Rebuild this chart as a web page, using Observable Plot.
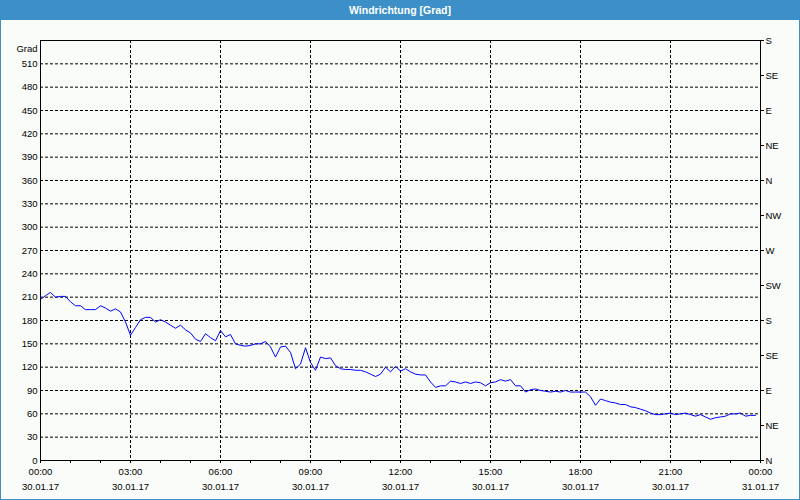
<!DOCTYPE html>
<html>
<head>
<meta charset="utf-8">
<script src="https://cdn.jsdelivr.net/npm/d3@7"></script>
<script src="https://cdn.jsdelivr.net/npm/@observablehq/plot@0.6"></script>
<style>
  html, body { margin: 0; padding: 0; background: #ffffff; }
  #win { position: relative; width: 800px; height: 500px; background: #f9fcf9; overflow: hidden;
         font-family: "Liberation Sans", Arial, sans-serif; }
  #title { position: absolute; left: 0; top: 0; width: 800px; height: 20px; background: #3c8fc7;
           color: #ffffff; font-size: 10.5px; font-weight: bold; text-align: center; line-height: 20px; }
  #chart { position: absolute; left: 0; top: 20px; }
  #border { position: absolute; left: 0; top: 0; width: 800px; height: 500px; box-sizing: border-box;
            border: 1px solid #3c8fc7; border-top: none; pointer-events: none; }
</style>
</head>
<body>
<div id="win">
  <div id="title">Windrichtung [Grad]</div>
  <div id="chart"></div>
  <div id="border"></div>
</div>
<script>
// ---- data ----
const titleText = "Windrichtung [Grad]";
const yAxisLabel = "Grad";
const startTime = "2017-01-30T00:00:00Z";
const endTime = "2017-01-31T00:00:00Z";
const stepMinutes = 10;
// wind direction in degrees, one reading every 10 minutes
const directionValues = [
  207,212,216,210,211,211,204,199,199,194,
  194,194,199,196,192,195,191,178,161,171,
  181,184,184,178,181,178,174,170,174,168,
  164,156,153,163,158,154,167,159,162,150,
  148,147,148,150,150,153,146,133,146,147,
  139,118,124,145,126,116,133,131,132,122,
  118,117,117,116,116,114,111,108,111,120,
  114,121,115,118,114,111,110,110,101,94,
  96,96,102,101,99,101,99,101,100,96,
  100,101,104,102,104,96,96,88,91,92,
  90,89,88,89,88,90,88,88,88,88,
  82,71,79,77,75,74,72,72,69,68,
  66,64,61,59,59,60,61,59,60,61,
  59,57,59,56,53,55,56,57,60,60,
  61,57,58,58
];
const yTicks = [0,30,60,90,120,150,180,210,240,270,300,330,360,390,420,450,480,510];
const yGridTicks = [30,60,90,120,150,180,210,240,270,300,330,360,390,420,450,480,510];
const compassTicks = [0,45,90,135,180,225,270,315,360,405,450,495,540];
const compassLabels = ["N","NE","E","SE","S","SW","W","NW","N","NE","E","SE","S"];
const majorTickTimes = ["2017-01-30T00:00:00Z","2017-01-30T03:00:00Z","2017-01-30T06:00:00Z",
  "2017-01-30T09:00:00Z","2017-01-30T12:00:00Z","2017-01-30T15:00:00Z","2017-01-30T18:00:00Z",
  "2017-01-30T21:00:00Z","2017-01-31T00:00:00Z"];
const gridTickTimes = majorTickTimes.slice(1, -1);

// ---- build ----
const t0 = new Date(startTime);
const data = directionValues.map((v, i) => ({ t: new Date(t0.getTime() + i * stepMinutes * 60000), v }));
const majorTicks = majorTickTimes.map(s => new Date(s));
const gridTicks = gridTickTimes.map(s => new Date(s));
const minorTicks = d3.utcHour.range(t0, d3.utcHour.offset(new Date(endTime), 1));
const fmtTime = d3.utcFormat("%H:%M");
const fmtDate = d3.utcFormat("%d.%m.%y");
document.getElementById("title").textContent = titleText;

const gridStyle = { stroke: "#000", strokeOpacity: 1, strokeWidth: 1, strokeDasharray: "3,2" };

const chart = Plot.plot({
  width: 800,
  height: 480,
  marginLeft: 40,
  marginRight: 40,
  marginTop: 20,
  marginBottom: 40,
  style: { background: "transparent", fontFamily: "'Liberation Sans', Arial, sans-serif", fontSize: "9.5px", color: "#000" },
  x: { type: "utc", domain: [t0, new Date(endTime)] },
  y: { domain: [0, 540] },
  marks: [
    Plot.gridY(yGridTicks, gridStyle),
    Plot.gridX(gridTicks, gridStyle),
    Plot.line(data, { x: "t", y: "v", stroke: "#0000ff", strokeWidth: 1 }),
    Plot.frame({ stroke: "#000" }),
    Plot.axisY({ ticks: yTicks, tickSize: 0, tickPadding: 3, label: null }),
    Plot.axisY({ anchor: "right", ticks: compassTicks, tickFormat: d => compassLabels[compassTicks.indexOf(d)],
                 tickSize: 3, tickPadding: 2, label: null }),
    Plot.axisX({ ticks: minorTicks, tickSize: 3, tickFormat: () => "", label: null }),
    Plot.axisX({ ticks: majorTicks, tickSize: 0, tickPadding: 8, tickFormat: fmtTime, label: null }),
    Plot.axisX({ ticks: majorTicks, tickSize: 0, tickPadding: 23, tickFormat: fmtDate, label: null }),
    Plot.text([yAxisLabel], { frameAnchor: "top-left", dx: -3, dy: 5, textAnchor: "end", fill: "#000" })
  ]
});
document.getElementById("chart").appendChild(chart);
</script>
</body>
</html>
